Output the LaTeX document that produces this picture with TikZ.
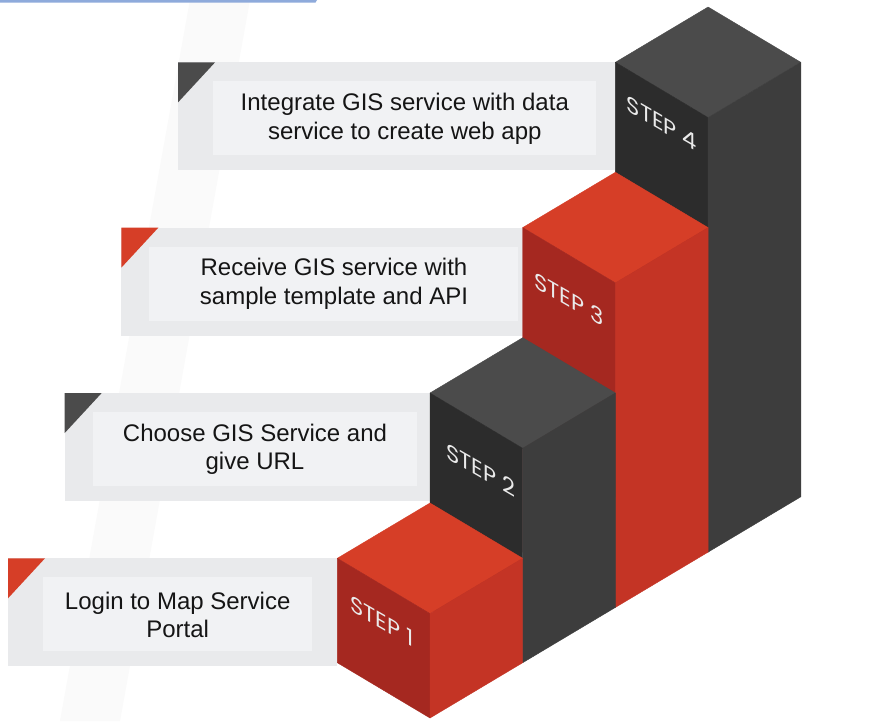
\documentclass[tikz,border=0pt]{standalone}
\usepackage{fontspec}
\setmainfont{Liberation Sans}
\newfontfamily\stepfont{Poppins}
\definecolor{redtop}{HTML}{D63E27}
\definecolor{redleft}{HTML}{A52820}
\definecolor{redright}{HTML}{C43425}
\definecolor{darktop}{HTML}{4B4B4B}
\definecolor{darkleft}{HTML}{2C2C2C}
\definecolor{darkright}{HTML}{3D3D3D}
\definecolor{boxouter}{HTML}{E9EAEC}
\definecolor{boxinner}{HTML}{F1F2F4}
\definecolor{txt}{HTML}{151515}
\definecolor{lbl}{HTML}{EAEAEA}
\definecolor{blueline}{HTML}{8EAADB}
\definecolor{bgshade}{HTML}{FAFAFA}
% column: #1 centre x, #2 top y, #3 base-front y, #4 top, #5 left, #6 right colours
\newcommand\stepcol[6]{%
  \filldraw[#4,line width=0.4pt,line join=round] (#1,#2) -- ++(92.7,55.3) -- ++(-92.7,55.3) -- ++(-92.7,-55.3) -- cycle;
  \filldraw[#5,line width=0.4pt,line join=round] ({#1-92.7},{#2+55.3}) -- ({#1},{#2+110.6}) -- (#1,#3) -- ({#1-92.7},{#3-55.3}) -- cycle;
  \filldraw[#6,line width=0.4pt,line join=round] (#1,{#2+110.6}) -- ({#1+92.7},{#2+55.3}) -- ({#1+92.7},{#3-55.3}) -- (#1,#3) -- cycle;
}
% box: #1 L, #2 T, #3 R, #4 inner left offset, #5 inner right offset, #6 triangle colour
\newcommand\infobox[6]{%
  \fill[boxouter] (#1,#2) rectangle (#3,{#2+108});
  \fill[boxinner] ({#1+#4},{#2+19}) rectangle ({#3-#5},{#2+93});
  \fill[#6] (#1,#2) -- ({#1+37},#2) -- (#1,{#2+40}) -- cycle;
}
\tikzset{
  boxtext/.style={text=txt, align=center, inner sep=0pt,
    font=\fontsize{24}{28.5}\selectfont},
  steplabel/.style={text=lbl, inner sep=0pt, yslant=-0.577,
    font=\stepfont\fontsize{22.5}{22.5}\selectfont}
}
\begin{document}
\begin{tikzpicture}[x=1pt,y=-1pt]
\useasboundingbox (0,0) rectangle (871,721);
\fill[white] (0,0) rectangle (871,721);
% faint background band
\fill[bgshade] (190,0) -- (250,0) -- (120,721) -- (60,721) -- cycle;
% top blue rule
\fill[blueline] (0,0) -- (317,0) -- (315.5,2.6) -- (0,2.6) -- cycle;
% text boxes
\infobox{178.1}{62.3}{615.4}{35}{19}{darktop}
\infobox{121.4}{227.6}{522.7}{28}{5}{redtop}
\infobox{64.7}{393}{430}{28}{13}{darktop}
\infobox{8}{558.3}{337.3}{35}{25}{redtop}
\node[boxtext] (t4) at (404.8,119) {Integrate GIS service with data\\service to create web app};
\node[boxtext] (t3) at (334,284) {Receive GIS service with\\sample template and API};
\node[boxtext] (t2) at (255,449.5) {Choose GIS Service and\\give URL};
\node[boxtext] (t1) at (177.7,615) {Login to Map Service\\Portal};
% columns, back to front
\stepcol{708.1}{7}{552.1}{darktop}{darkleft}{darkright}
\stepcol{615.4}{172.3}{607.4}{redtop}{redleft}{redright}
\stepcol{522.7}{337.7}{662.7}{darktop}{darkleft}{darkright}
\stepcol{430}{503}{718}{redtop}{redleft}{redright}
% step labels
\node[steplabel] (s4) at (662,123) {STEP 4};
\node[steplabel] (s3) at (569,299) {STEP 3};
\node[steplabel] (s2) at (481,470) {STEP 2};
\node[steplabel] (s1) at (382,621) {STEP 1};
\end{tikzpicture}
\end{document}
